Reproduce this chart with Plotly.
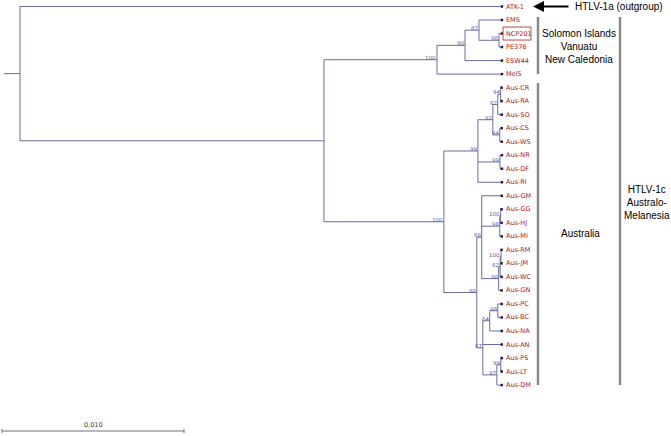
import plotly.graph_objects as go

# ---------------- data ----------------
node_name = ["root", "ATK-1", "n_in", "n_sol", "n90", "n87", "EMS", "n98a", "NCP201", "PE376",
             "ESW44", "Mel5", "n_aus", "n99a", "n92", "n82", "n94a", "Aus-CR", "Aus-RA", "Aus-SQ",
             "n94b", "Aus-CS", "Aus-WS", "n99b", "Aus-NR", "Aus-DF", "Aus-RI", "n88", "n68", "Aus-GM",
             "n98c", "n100c", "Aus-GG", "Aus-HJ", "Aus-MI", "n98d", "n62", "n100d", "Aus-RM", "Aus-JM",
             "Aus-WC", "Aus-GN", "n67", "n64", "n98e", "Aus-PC", "Aus-BC", "Aus-NA", "Aus-AN", "n97",
             "n99e", "Aus-PS", "Aus-LT", "Aus-DM"]
node_parent = [None, "root", "root", "n_in", "n_sol", "n90", "n87", "n87", "n98a", "n98a",
               "n90", "n_sol", "n_in", "n_aus", "n99a", "n92", "n82", "n94a", "n94a", "n82",
               "n92", "n94b", "n94b", "n99a", "n99b", "n99b", "n99a", "n_aus", "n88", "n68",
               "n68", "n98c", "n100c", "n100c", "n98c", "n68", "n98d", "n62", "n100d", "n100d",
               "n62", "n98d", "n88", "n67", "n64", "n98e", "n98e", "n64", "n67", "n67",
               "n97", "n99e", "n99e", "n97"]
branch_len = [0.0, 0.02648, 0.01670, 0.00621, 0.00154, 0.00077, 0.00126, 0.00110, 0.00016, 0.00016,
              0.00203, 0.00357, 0.00659, 0.00187, 0.00082, 0.00027, 0.00016, 0.00005, 0.00005, 0.00022,
              0.00038, 0.00011, 0.00011, 0.00121, 0.00011, 0.00011, 0.00132, 0.00181, 0.00027, 0.00110,
              0.00099, 0.00005, 0.00005, 0.00005, 0.00011, 0.00093, 0.00008, 0.00005, 0.00003, 0.00003,
              0.00008, 0.00016, 0.00033, 0.00038, 0.00044, 0.00022, 0.00022, 0.00066, 0.00104, 0.00077,
              0.00022, 0.00005, 0.00005, 0.00027]
support = ["", "", "", "100", "90", "87", "", "98", "", "",
           "", "", "100", "99", "92", "82", "94", "", "", "",
           "94", "", "", "99", "", "", "", "88", "68", "",
           "98", "100", "", "", "", "98", "62", "100", "", "",
           "", "", "67", "64", "98", "", "", "", "", "97",
           "99", "", "", ""]
root_stem = 0.00088
scale_len = 0.010
scale_label = "0,010"

boxed_leaf = "NCP201"

# ---------------- layout helpers (pixel mapping) ----------------
W, H = 671, 436
X0PX, PXU = 20.0, 18200.0          # root x pixel, pixels per unit
Y0PX, DYPX = 6.5, 13.52            # first leaf y pixel, pixels per leaf


def px2x(p):
    return (p - X0PX) / PXU


def px2y(p):
    return (p - Y0PX) / DYPX


# ---------------- tree geometry ----------------
children = {n: [] for n in node_name}
blen = dict(zip(node_name, branch_len))
par = dict(zip(node_name, node_parent))
sup = dict(zip(node_name, support))
for n, p in zip(node_name, node_parent):
    if p is not None:
        children[p].append(n)

xpos = {}
for n in node_name:  # pre-order listing
    xpos[n] = 0.0 if par[n] is None else xpos[par[n]] + blen[n]

leaves = [n for n in node_name if not children[n]]
ypos = {n: i for i, n in enumerate(leaves)}


def set_y(n):
    if n in ypos:
        return ypos[n]
    ys = [set_y(c) for c in children[n]]
    ypos[n] = (min(ys) + max(ys)) / 2.0
    return ypos[n]


set_y("root")

lx, ly = [], []
for n in node_name:
    p = par[n]
    if p is not None:
        lx += [xpos[p], xpos[n], None]
        ly += [ypos[n], ypos[n], None]
    if children[n]:
        cy = [ypos[c] for c in children[n]]
        lx += [xpos[n], xpos[n], None]
        ly += [min(cy), max(cy), None]
lx += [xpos["root"] - root_stem, xpos["root"], None]
ly += [ypos["root"], ypos["root"], None]

LINE = "#6c6c9c"
fig = go.Figure()
fig.add_trace(go.Scatter(x=lx, y=ly, mode="lines", line=dict(color=LINE, width=1),
                         hoverinfo="skip", showlegend=False))
fig.add_trace(go.Scatter(x=[xpos[n] for n in leaves], y=[ypos[n] for n in leaves], mode="markers",
                         marker=dict(symbol="square", size=2.5, color="#1c1c5c"),
                         hoverinfo="skip", showlegend=False))

ann = []
for n in leaves:
    ann.append(dict(x=xpos[n], y=ypos[n], text=n, showarrow=False, xanchor="left", yanchor="middle",
                    xshift=2, font=dict(family="DejaVu Sans", size=6.5, color="#b01818")))
for n in node_name:
    if sup[n]:
        ann.append(dict(x=xpos[n], y=ypos[n], text=sup[n], showarrow=False, xanchor="right",
                        yanchor="bottom", xshift=1, yshift=-3,
                        font=dict(family="DejaVu Sans", size=5.5, color="#5a5ab4")))

# arrow to outgroup
ann.append(dict(x=px2x(533), y=ypos["ATK-1"], ax=px2x(570), ay=ypos["ATK-1"], axref="x", ayref="y",
                xref="x", yref="y", text="", showarrow=True, arrowhead=2, arrowsize=1.1,
                arrowwidth=2, arrowcolor="black"))
TXT = dict(family="Liberation Sans, Arial", size=10, color="black")
ann.append(dict(x=px2x(573), y=ypos["ATK-1"], text="HTLV-1a (outgroup)", showarrow=False,
                xanchor="left", yanchor="middle", font=TXT))
ann.append(dict(x=px2x(579), y=px2y(46), text="Solomon Islands<br>Vanuatu<br>New Caledonia",
                showarrow=False, xanchor="center", yanchor="middle", font=TXT))
ann.append(dict(x=px2x(580), y=px2y(233), text="Australia", showarrow=False,
                xanchor="center", yanchor="middle", font=TXT))
ann.append(dict(x=px2x(647), y=px2y(202), text="HTLV-1c<br>Australo-<br>Melanesia",
                showarrow=False, xanchor="center", yanchor="middle", font=TXT))

# scale bar
sb_x0 = px2x(2)
sb_y = px2y(431)
shapes = []
GREY = "#8a8a8a"
shapes.append(dict(type="line", x0=sb_x0, x1=sb_x0 + scale_len, y0=sb_y, y1=sb_y,
                   line=dict(color="#707070", width=1)))
for xx in (sb_x0, sb_x0 + scale_len):
    shapes.append(dict(type="line", x0=xx, x1=xx, y0=px2y(429), y1=px2y(433),
                       line=dict(color="#707070", width=1)))
ann.append(dict(x=sb_x0 + scale_len / 2, y=sb_y, text=scale_label, showarrow=False,
                xanchor="center", yanchor="bottom", yshift=0,
                font=dict(family="DejaVu Sans", size=6.5, color="#404040")))

# group bars
for (xp, y0p, y1p) in [(538, 17, 74), (538, 83, 385), (620, 17, 385)]:
    shapes.append(dict(type="line", x0=px2x(xp), x1=px2x(xp), y0=px2y(y0p), y1=px2y(y1p),
                       line=dict(color=GREY, width=2.5)))

# box around NCP201
shapes.append(dict(type="rect", x0=px2x(503), x1=px2x(531), y0=ypos[boxed_leaf] - 6.5 / DYPX,
                   y1=ypos[boxed_leaf] + 6.5 / DYPX, line=dict(color="#c04848", width=1)))

fig.update_layout(
    width=W, height=H, margin=dict(l=0, r=0, t=0, b=0),
    paper_bgcolor="white", plot_bgcolor="white",
    xaxis=dict(range=[px2x(0), px2x(W)], visible=False, fixedrange=True),
    yaxis=dict(range=[px2y(H), px2y(0)], visible=False, fixedrange=True),
    annotations=ann, shapes=shapes, showlegend=False,
)
fig.write_html("out.html", post_script="document.body.style.margin='0';",
               config={"displayModeBar": False})
